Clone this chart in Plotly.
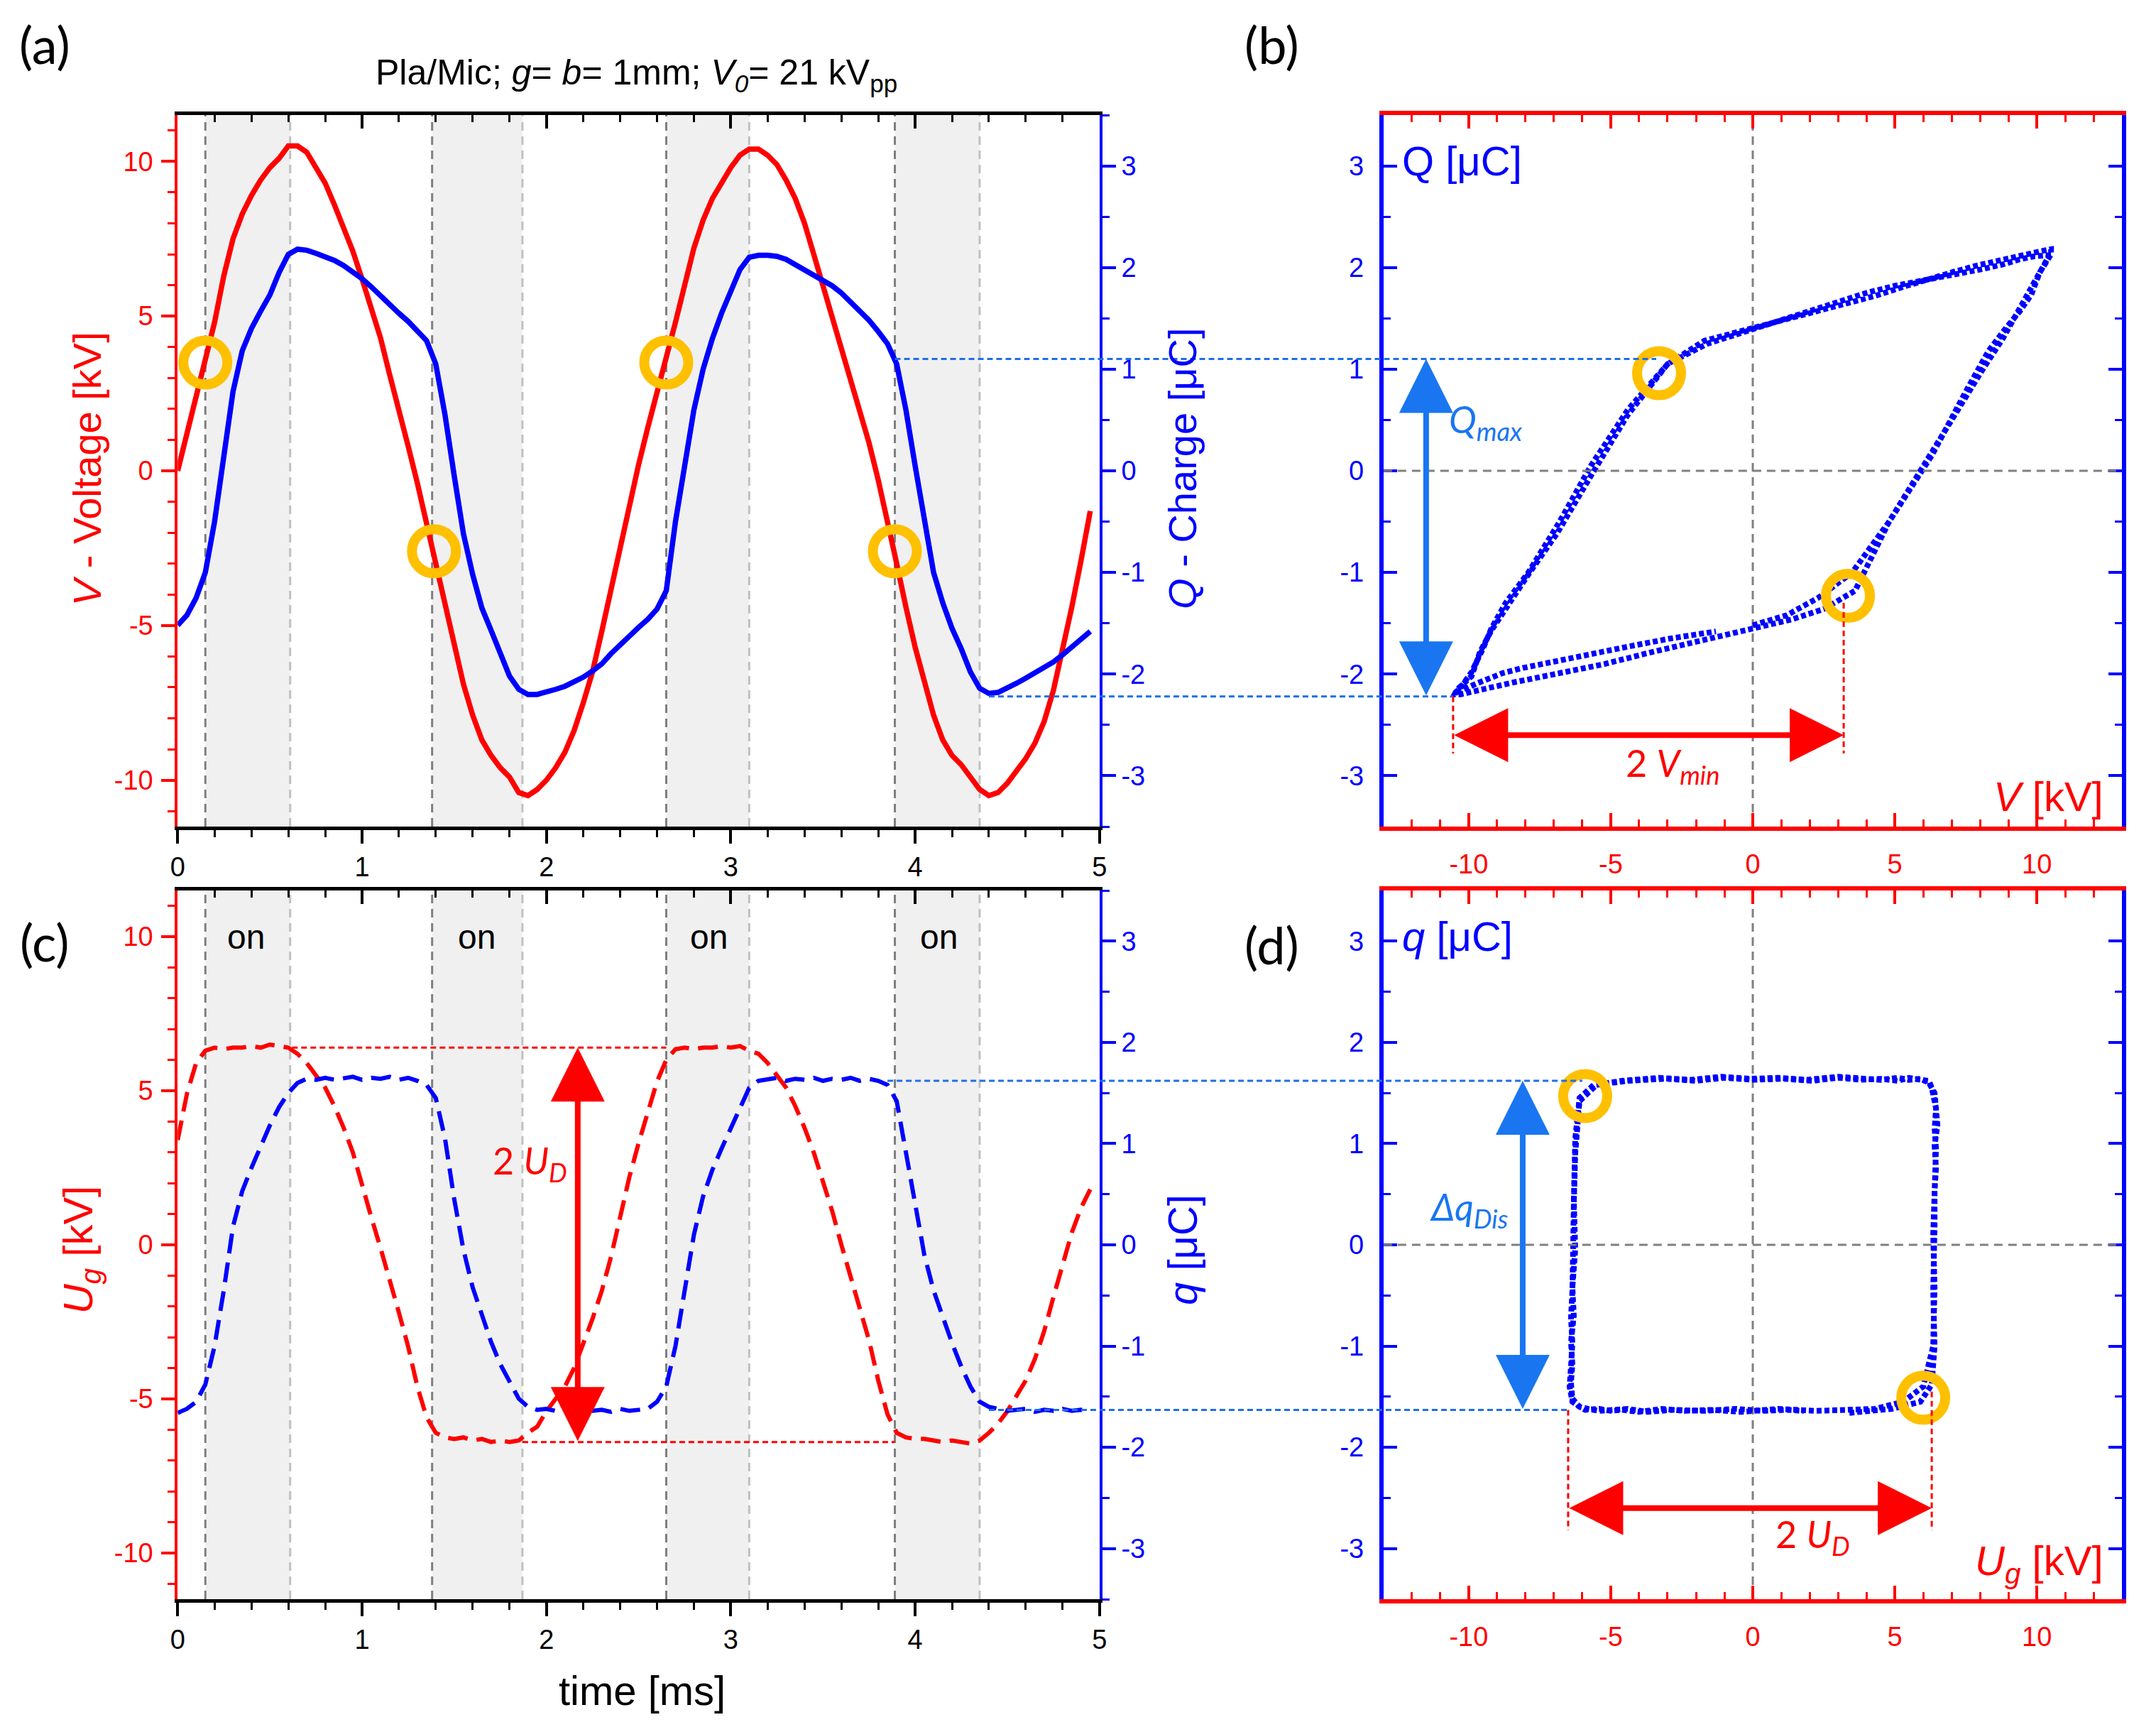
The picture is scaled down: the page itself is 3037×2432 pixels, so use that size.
import plotly.graph_objects as go

# ---------------- values ----------------
time_ms = [
    0.00, 0.05, 0.10, 0.15, 0.20, 0.25, 0.30, 0.35, 0.40, 0.45,
    0.50, 0.55, 0.60, 0.65, 0.70, 0.75, 0.80, 0.85, 0.90, 0.95,
    1.00, 1.05, 1.10, 1.15, 1.20, 1.25, 1.30, 1.35, 1.40, 1.45,
    1.50, 1.55, 1.60, 1.65, 1.70, 1.75, 1.80, 1.85, 1.90, 1.95,
    2.00, 2.05, 2.10, 2.15, 2.20, 2.25, 2.30, 2.35, 2.40, 2.45,
    2.50, 2.55, 2.60, 2.65, 2.70, 2.75, 2.80, 2.85, 2.90, 2.95,
    3.00, 3.05, 3.10, 3.15, 3.20, 3.25, 3.30, 3.35, 3.40, 3.45,
    3.50, 3.55, 3.60, 3.65, 3.70, 3.75, 3.80, 3.85, 3.90, 3.95,
    4.00, 4.05, 4.10, 4.15, 4.20, 4.25, 4.30, 4.35, 4.40, 4.45,
    4.50, 4.55, 4.60, 4.65, 4.70, 4.75, 4.80, 4.85, 4.90, 4.95,
]

voltage_kv = [
    0.0, 1.2, 2.3, 3.5, 4.8, 6.3, 7.5, 8.3, 8.9, 9.4,
    9.8, 10.1, 10.5, 10.5, 10.3, 9.8, 9.3, 8.6, 7.9, 7.1,
    6.2, 5.3, 4.3, 3.1, 2.0, 0.8, -0.4, -1.7, -3.0, -4.4,
    -5.7, -6.9, -7.9, -8.7, -9.2, -9.6, -9.9, -10.4, -10.5, -10.3,
    -10.0, -9.6, -9.1, -8.4, -7.5, -6.5, -5.2, -3.8, -2.4, -1.1,
    0.2, 1.4, 2.5, 3.6, 4.8, 6.0, 7.2, 8.1, 8.8, 9.3,
    9.8, 10.2, 10.4, 10.4, 10.2, 9.9, 9.4, 8.8, 8.0, 7.0,
    6.0, 5.0, 4.0, 3.0, 2.0, 0.9, -0.3, -1.6, -3.0, -4.4,
    -5.7, -6.8, -7.9, -8.7, -9.2, -9.5, -9.9, -10.3, -10.5, -10.4,
    -10.1, -9.7, -9.3, -8.8, -8.1, -7.1, -5.8, -4.4, -2.9, -1.3,
]

charge_uc = [
    -1.52, -1.42, -1.25, -1.00, -0.50, 0.15, 0.78, 1.18, 1.40, 1.57,
    1.73, 1.95, 2.13, 2.18, 2.17, 2.14, 2.11, 2.07, 2.02, 1.96,
    1.89, 1.81, 1.72, 1.63, 1.55, 1.47, 1.38, 1.28, 1.05, 0.55,
    -0.05, -0.62, -1.02, -1.35, -1.57, -1.78, -2.02, -2.15, -2.20, -2.20,
    -2.18, -2.15, -2.12, -2.08, -2.03, -1.97, -1.90, -1.80, -1.71, -1.62,
    -1.54, -1.46, -1.36, -1.18, -0.50, 0.05, 0.60, 1.00, 1.30, 1.55,
    1.78, 1.98, 2.10, 2.12, 2.12, 2.11, 2.08, 2.03, 1.98, 1.93,
    1.88, 1.82, 1.75, 1.66, 1.57, 1.48, 1.37, 1.25, 1.05, 0.60,
    0.05, -0.50, -1.00, -1.30, -1.55, -1.75, -1.98, -2.14, -2.19, -2.18,
    -2.14, -2.09, -2.04, -1.99, -1.94, -1.88, -1.81, -1.73, -1.65, -1.58,
]

gap_voltage_kv = [
    3.4, 4.9, 5.9, 6.3, 6.4, 6.35, 6.4, 6.4, 6.45, 6.4,
    6.5, 6.45, 6.4, 6.2, 5.9, 5.5, 5.1, 4.5, 3.8, 3.0,
    1.9, 0.9, -0.1, -1.1, -2.2, -3.3, -4.6, -5.6, -6.1, -6.25,
    -6.3, -6.25, -6.35, -6.3, -6.4, -6.35, -6.4, -6.35, -6.1, -5.9,
    -5.4, -5.0, -4.6, -4.0, -3.2, -2.4, -1.5, -0.4, 0.9, 2.2,
    3.3, 4.3, 5.3, 6.0, 6.35, 6.4, 6.35, 6.4, 6.4, 6.45,
    6.4, 6.45, 6.3, 6.2, 5.9, 5.5, 5.1, 4.5, 3.8, 3.0,
    2.1, 1.1, 0.0, -1.0, -2.0, -3.1, -4.4, -5.5, -6.1, -6.25,
    -6.3, -6.3, -6.35, -6.4, -6.35, -6.4, -6.45, -6.35, -6.1, -5.8,
    -5.4, -4.9, -4.4, -3.7, -2.8, -1.7, -0.6, 0.4, 1.2, 1.8,
]

gap_charge_uc = [
    -1.66, -1.62, -1.55, -1.38, -1.00, -0.45, 0.18, 0.53, 0.76, 0.98,
    1.18, 1.36, 1.50, 1.60, 1.64, 1.63, 1.65, 1.63, 1.64, 1.66,
    1.63, 1.65, 1.64, 1.66, 1.63, 1.65, 1.62, 1.58, 1.45, 1.05,
    0.45, -0.05, -0.42, -0.70, -0.96, -1.18, -1.36, -1.52, -1.60, -1.63,
    -1.62, -1.64, -1.63, -1.65, -1.62, -1.64, -1.63, -1.65, -1.62, -1.64,
    -1.63, -1.62, -1.55, -1.40, -1.00, -0.42, 0.10, 0.48, 0.74, 0.95,
    1.15, 1.35, 1.55, 1.62, 1.63, 1.65, 1.62, 1.64, 1.63, 1.65,
    1.62, 1.64, 1.63, 1.65, 1.62, 1.64, 1.62, 1.58, 1.42, 0.90,
    0.40, -0.10, -0.45, -0.72, -0.97, -1.20, -1.40, -1.55, -1.60, -1.62,
    -1.64, -1.63, -1.62, -1.65, -1.63, -1.64, -1.62, -1.64, -1.63, -1.64,
]

# discharge ("on") phases
on_start_ms = [0.15, 1.38, 2.65, 3.89]
on_end_ms = [0.61, 1.87, 3.10, 4.35]
on_label_ms = [0.37, 1.62, 2.88, 4.13]

# highlighted points
ring_a_t = [0.15, 1.39, 2.65, 3.89]
ring_a_v = [3.5, -2.6, 3.5, -2.6]
ring_b_v = [-3.3, 3.35]
ring_b_q = [0.96, -1.23]
ring_d_u = [-5.9, 6.0]
ring_d_q = [1.47, -1.51]

# guide levels
q_upper, q_lower = 1.10, -2.22
t_q_upper, t_q_lower = 3.89, 4.40
v_q_upper, v_q_lower = -3.4, -10.55
v_min_left, v_min_right = -10.55, 3.2
q_min_right_top = -1.3
arrow_b_v, arrow_b_q = -11.5, -2.6

ud_level = 6.4
t_ud_top, t_ud_bot = (0.62, 2.65), (1.87, 3.89)
t_ud_arrow = 2.17
q_dis_upper, q_dis_lower = 1.62, -1.63
t_dis_upper, t_dis_lower = 3.85, 4.40
u_dis_upper, u_dis_lower = -6.0, -6.5
u_d_left, u_d_right = -6.5, 6.3
q_ud_right_top = -1.45
arrow_d_u, arrow_d_q = -8.1, -2.6

# axes ranges and tick labels
t_range = [0, 5]
v_range = [-11.5, 11.5]
q_range = [-3.5, 3.5]
vb_range = [-13, 13]
t_ticks = [0, 1, 2, 3, 4, 5]
t_text = ["0", "1", "2", "3", "4", "5"]
v_ticks = [-10, -5, 0, 5, 10]
v_text = ["-10", "-5", "0", "5", "10"]
q_ticks = [-3, -2, -1, 0, 1, 2, 3]
q_text = ["-3", "-2", "-1", "0", "1", "2", "3"]

# ---------------- layout helpers ----------------
W, H, OFF = 3021, 2416, 8
FONT = "Liberation Sans Narrow, Arial Narrow, Liberation Sans, Arial, sans-serif"
NOTE_FONT = "Lato, Open Sans, sans-serif"
RED, BLUE = "#FF0000", "#0000FF"
ARROW_BLUE, GUIDE_BLUE, RING = "#1976F0", "#1E6FE8", "#FFC000"


def px(p):
    return (p - OFF) / W


def py(p):
    return 1 - (p - OFF) / H


XA = [px(241), px(1549)]
XB = [px(1952), px(3000)]
YT = [py(1164), py(162)]
YB = [py(2252), py(1254)]


def to_paper(v, rng, dom):
    return dom[0] + (v - rng[0]) / (rng[1] - rng[0]) * (dom[1] - dom[0])


def axis(color, rng, vals, texts, minor, ticks, lw, labels=True, standoff=0):
    return dict(
        range=rng, tickmode="array", tickvals=vals, ticktext=texts,
        showticklabels=labels, ticks=ticks, ticklen=19, tickwidth=4, tickcolor=color,
        ticklabelstandoff=standoff,
        minor=dict(dtick=minor, tick0=0, ticks=ticks, ticklen=10, tickwidth=3, tickcolor=color),
        showline=True, linecolor=color, linewidth=lw, showgrid=False, zeroline=False,
        tickfont=dict(family=FONT, size=38, color=color),
    )


def label(text, x, y, size, color="black", xref="paper", yref="paper",
          xanchor="center", yanchor="middle", angle=0, family=FONT):
    return dict(text=text, x=x, y=y, xref=xref, yref=yref, xanchor=xanchor,
                yanchor=yanchor, textangle=angle, showarrow=False,
                font=dict(family=family, size=size, color=color))


def arrow(x0, y0, x1, y1, xref, yref, color):
    return dict(x=x1, y=y1, ax=x0, ay=y0, xref=xref, yref=yref, axref=xref, ayref=yref,
                text="", showarrow=True, arrowhead=2, startarrowhead=2, arrowside="end+start",
                arrowsize=1.9, startarrowsize=1.9, arrowwidth=8, arrowcolor=color,
                standoff=0, startstandoff=0)


def hline(y, x0, x1, xref, yref, color, width=3, dash="9px,6px"):
    return dict(type="line", xref=xref, yref=yref, x0=x0, x1=x1, y0=y, y1=y,
                line=dict(color=color, width=width, dash=dash))


def vline(x, y0, y1, xref, yref, color, width=3, dash="9px,6px", layer="above"):
    return dict(type="line", xref=xref, yref=yref, x0=x, x1=x, y0=y0, y1=y1,
                line=dict(color=color, width=width, dash=dash), layer=layer)


ring_marker = dict(symbol="circle-open", size=62, color=RING, line=dict(width=14, color=RING))

# ---------------- traces ----------------
fig = go.Figure()
fig.add_trace(go.Scatter(x=time_ms, y=voltage_kv, mode="lines", line=dict(color=RED, width=7.5),
                         xaxis="x", yaxis="y"))
fig.add_trace(go.Scatter(x=ring_a_t, y=ring_a_v, mode="markers", xaxis="x", yaxis="y",
                         marker=ring_marker))
fig.add_trace(go.Scatter(x=time_ms, y=charge_uc, mode="lines", line=dict(color=BLUE, width=7.5),
                         xaxis="x", yaxis="y2"))
fig.add_trace(go.Scatter(x=t_range, y=[None, None], mode="lines", xaxis="x7", yaxis="y",
                         hoverinfo="skip"))

fig.add_trace(go.Scatter(x=voltage_kv, y=charge_uc, mode="lines", xaxis="x3", yaxis="y3",
                         line=dict(color=BLUE, width=8, dash="7px,4px")))
fig.add_trace(go.Scatter(x=ring_b_v, y=ring_b_q, mode="markers", xaxis="x3", yaxis="y3",
                         marker=ring_marker))

fig.add_trace(go.Scatter(x=time_ms, y=gap_voltage_kv, mode="lines", xaxis="x4", yaxis="y4",
                         line=dict(color=RED, width=6, dash="28px,13px")))
fig.add_trace(go.Scatter(x=time_ms, y=gap_charge_uc, mode="lines", xaxis="x4", yaxis="y5",
                         line=dict(color=BLUE, width=6, dash="28px,13px")))
fig.add_trace(go.Scatter(x=t_range, y=[None, None], mode="lines", xaxis="x8", yaxis="y4",
                         hoverinfo="skip"))

fig.add_trace(go.Scatter(x=gap_voltage_kv, y=gap_charge_uc, mode="lines", xaxis="x6", yaxis="y6",
                         line=dict(color=BLUE, width=8, dash="7px,4px")))
fig.add_trace(go.Scatter(x=ring_d_u, y=ring_d_q, mode="markers", xaxis="x6", yaxis="y6",
                         marker=ring_marker))

# ---------------- shapes ----------------
shapes = []
for s, e in zip(on_start_ms, on_end_ms):
    for xr, yr in (("x", "y"), ("x4", "y4")):
        shapes.append(dict(type="rect", xref=xr, yref=yr + " domain", x0=s, x1=e, y0=0, y1=1,
                           fillcolor="#F0F0F0", line=dict(width=0), layer="below"))
        shapes.append(vline(s, 0, 1, xr, yr + " domain", "#7F7F7F", 3, "12px,8px", "below"))
        shapes.append(vline(e, 0, 1, xr, yr + " domain", "#C0C0C0", 3, "12px,8px", "below"))

for xr, yr in (("x3", "y3"), ("x6", "y6")):
    shapes.append(vline(0, 0, 1, xr, yr + " domain", "#808080", 3, "12px,8px", "below"))
    shapes.append(hline(0, 0, 1, xr + " domain", yr, "#808080", 3, "12px,8px"))

# blue guide lines running from the time plots to the loops
for q, t, v, yd in ((q_upper, t_q_upper, v_q_upper, YT),
                    (q_lower, t_q_lower, v_q_lower, YT),
                    (q_dis_upper, t_dis_upper, u_dis_upper, YB),
                    (q_dis_lower, t_dis_lower, u_dis_lower, YB)):
    shapes.append(hline(to_paper(q, q_range, yd), to_paper(t, t_range, XA), to_paper(v, vb_range, XB),
                        "paper", "paper", GUIDE_BLUE, 3, "8px,5px"))

# red guides in (c)
shapes.append(hline(ud_level, t_ud_top[0], t_ud_top[1], "x4", "y4", RED, 3, "8px,5px"))
shapes.append(hline(-ud_level, t_ud_bot[0], t_ud_bot[1], "x4", "y4", RED, 3, "8px,5px"))

# red guides in (b) and (d)
shapes.append(vline(v_min_left, q_lower, -2.78, "x3", "y3", RED, 3, "8px,5px"))
shapes.append(vline(v_min_right, q_min_right_top, -2.78, "x3", "y3", RED, 3, "8px,5px"))
shapes.append(vline(u_d_left, q_dis_lower, -2.82, "x6", "y6", RED, 3, "8px,5px"))
shapes.append(vline(u_d_right, q_ud_right_top, -2.82, "x6", "y6", RED, 3, "8px,5px"))

# ---------------- annotations ----------------
ann = [
    label("(a)", px(52), py(62), 72, family=NOTE_FONT),
    label("(b)", px(1794), py(62), 72, family=NOTE_FONT),
    label("(c)", px(52), py(1326), 72, family=NOTE_FONT),
    label("(d)", px(1794), py(1330), 72, family=NOTE_FONT),
    label("Pla/Mic; <i>g</i>= <i>b</i>= 1mm; <i>V<sub>0</sub></i>= 21 kV<sub>pp</sub>",
          px(892), py(106), 50),
    label("time [ms]", px(900), py(2380), 58),
    label("<i>V</i> - Voltage [kV]", px(112), py(660), 56, RED, angle=-90),
    label("<i>Q</i> - Charge [μC]", px(1666), py(660), 56, BLUE, angle=-90),
    label("<i>U<sub>g</sub></i> [kV]", px(104), py(1760), 58, RED, angle=-90),
    label("<i>q</i> [μC]", px(1666), py(1760), 58, BLUE, angle=-90),
    # panel (b)
    label("Q [μC]", -12.4, 3.05, 58, BLUE, "x3", "y3", xanchor="left"),
    label("<i>V</i> [kV]", 12.4, -3.2, 58, RED, "x3", "y3", xanchor="right"),
    label("<i>Q<sub>max</sub></i>", -9.4, 0.48, 52, ARROW_BLUE, "x3", "y3", family=NOTE_FONT),
    label("2 <i>V<sub>min</sub></i>", -2.8, -2.9, 52, RED, "x3", "y3", family=NOTE_FONT),
    arrow(arrow_b_v, q_lower, arrow_b_v, q_upper, "x3", "y3", ARROW_BLUE),
    arrow(v_min_left, arrow_b_q, v_min_right, arrow_b_q, "x3", "y3", RED),
    # panel (c)
    label("2 <i>U<sub>D</sub></i>", 2.12, 2.65, 52, RED, "x4", "y4", xanchor="right",
          family=NOTE_FONT),
    arrow(t_ud_arrow, -ud_level, t_ud_arrow, ud_level, "x4", "y4", RED),
    # panel (d)
    label("<i>q</i> [μC]", -12.4, 3.05, 58, BLUE, "x6", "y6", xanchor="left"),
    label("<i>U<sub>g</sub></i> [kV]", 12.4, -3.15, 58, RED, "x6", "y6", xanchor="right"),
    label("<i>Δq<sub>Dis</sub></i>", -10.0, 0.35, 52, ARROW_BLUE, "x6", "y6", family=NOTE_FONT),
    label("2 <i>U<sub>D</sub></i>", 2.1, -2.88, 52, RED, "x6", "y6", family=NOTE_FONT),
    arrow(arrow_d_u, q_dis_lower, arrow_d_u, q_dis_upper, "x6", "y6", ARROW_BLUE),
    arrow(u_d_left, arrow_d_q, u_d_right, arrow_d_q, "x6", "y6", RED),
]
for t in on_label_ms:
    ann.append(label("on", t, 10.0, 48, "black", "x4", "y4"))

# ---------------- axes ----------------
top_a = axis("black", t_range, t_ticks, t_text, 0.2, "inside", 5, labels=False)
top_a.update(overlaying="x", side="top", anchor="y")
top_c = axis("black", t_range, t_ticks, t_text, 0.2, "inside", 5, labels=False)
top_c.update(overlaying="x4", side="top", anchor="y4")

fig.update_layout(
    width=W, height=H, margin=dict(l=0, r=0, t=0, b=0),
    paper_bgcolor="white", plot_bgcolor="white", showlegend=False,
    xaxis=dict(axis("black", t_range, t_ticks, t_text, 0.2, "outside", 5), domain=XA, anchor="y"),
    yaxis=dict(axis(RED, v_range, v_ticks, v_text, 1, "outside", 4, standoff=4), domain=YT, anchor="x"),
    yaxis2=dict(axis(BLUE, q_range, q_ticks, q_text, 0.5, "outside", 4),
                overlaying="y", side="right", anchor="x"),
    xaxis7=top_a,
    xaxis3=dict(axis(RED, vb_range, v_ticks, v_text, 1, "inside", 6, standoff=14), domain=XB,
                anchor="y3", mirror="ticks"),
    yaxis3=dict(axis(BLUE, q_range, q_ticks, q_text, 0.5, "inside", 6, standoff=14), domain=YT,
                anchor="x3", mirror="ticks"),
    xaxis4=dict(axis("black", t_range, t_ticks, t_text, 0.2, "outside", 5), domain=XA, anchor="y4"),
    yaxis4=dict(axis(RED, v_range, v_ticks, v_text, 1, "outside", 4, standoff=4), domain=YB, anchor="x4"),
    yaxis5=dict(axis(BLUE, q_range, q_ticks, q_text, 0.5, "outside", 4),
                overlaying="y4", side="right", anchor="x4"),
    xaxis8=top_c,
    xaxis6=dict(axis(RED, vb_range, v_ticks, v_text, 1, "inside", 6, standoff=14), domain=XB,
                anchor="y6", mirror="ticks"),
    yaxis6=dict(axis(BLUE, q_range, q_ticks, q_text, 0.5, "inside", 6, standoff=14), domain=YB,
                anchor="x6", mirror="ticks"),
    shapes=shapes,
    annotations=ann,
)

fig.write_html("out.html", config={"displayModeBar": False})
